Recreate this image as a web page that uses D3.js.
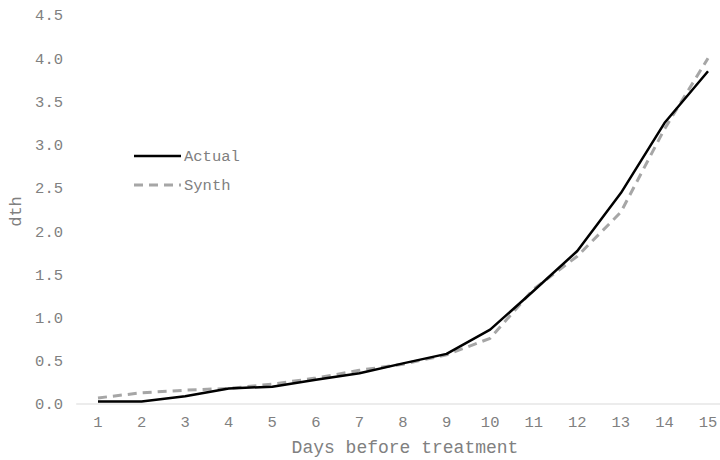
<!DOCTYPE html>
<html>
<head>
<meta charset="utf-8">
<script src="https://cdn.jsdelivr.net/npm/d3@7"></script>
<style>
  html, body { margin: 0; padding: 0; background: #fff; }
  svg { display: block; }
  text { font-family: "Liberation Mono", "Courier New", monospace; fill: #808080; }
</style>
</head>
<body>
<svg id="chart" width="720" height="460"></svg>
<script>
// Days before treatment
const days = [1, 2, 3, 4, 5, 6, 7, 8, 9, 10, 11, 12, 13, 14, 15];
// Observed series
const actual = [0.03, 0.03, 0.09, 0.18, 0.20, 0.28, 0.355, 0.47, 0.58, 0.86, 1.31, 1.77, 2.44, 3.25, 3.85];
// Synthetic control series
const synth = [0.07, 0.13, 0.16, 0.18, 0.23, 0.30, 0.39, 0.46, 0.57, 0.76, 1.33, 1.71, 2.22, 3.18, 4.00];
const yTicks = [0, 0.5, 1.0, 1.5, 2.0, 2.5, 3.0, 3.5, 4.0, 4.5];
const seriesNames = ["Actual", "Synth"];

const svg = d3.select("#chart");
const plotLeft = 76.2, plotRight = 729.8, plotTop = 15, plotBottom = 404;

const x = d3.scaleBand().domain(days).range([plotLeft, plotRight]);
const y = d3.scaleLinear().domain([0, 4.5]).range([plotBottom, plotTop]);

// Y tick labels
svg.append("g").selectAll("text").data(yTicks).join("text")
  .attr("x", 63).attr("y", d => y(d)).attr("dy", "0.35em")
  .attr("text-anchor", "end").attr("font-size", 15.5)
  .text(d => d3.format(".1f")(d));

// X axis baseline
svg.append("line")
  .attr("x1", plotLeft).attr("x2", plotRight).attr("y1", y(0)).attr("y2", y(0))
  .attr("stroke", "#d9d9d9").attr("stroke-width", 1);

// X tick labels
svg.append("g").selectAll("text").data(days).join("text")
  .attr("x", d => x(d) + x.bandwidth() / 2).attr("y", 427)
  .attr("text-anchor", "middle").attr("font-size", 15.5)
  .text(d => d);

// Axis titles
svg.append("text").attr("x", 405).attr("y", 453).attr("text-anchor", "middle")
  .attr("font-size", 18).text("Days before treatment");
svg.append("text").attr("transform", `translate(21, ${(plotTop + plotBottom) / 2 + 2}) rotate(-90)`)
  .attr("text-anchor", "middle").attr("font-size", 17).text("dth");

const line = d3.line()
  .x((d, i) => x(days[i]) + x.bandwidth() / 2)
  .y(d => y(d));

const styles = [
  { color: "#000000", width: 2.5, dash: null },
  { color: "#a6a6a6", width: 3, dash: "9,6" }
];

[synth, actual].forEach((s, k) => {
  const st = styles[1 - k];
  svg.append("path").datum(s)
    .attr("fill", "none").attr("stroke", st.color).attr("stroke-width", st.width)
    .attr("stroke-dasharray", st.dash).attr("stroke-linejoin", "round")
    .attr("d", line);
});

// Legend
const lg = svg.append("g");
seriesNames.forEach((name, i) => {
  const yy = 156 + i * 29;
  lg.append("line").attr("x1", 134).attr("x2", 181).attr("y1", yy).attr("y2", yy)
    .attr("stroke", styles[i].color).attr("stroke-width", styles[i].width)
    .attr("stroke-dasharray", styles[i].dash);
  lg.append("text").attr("x", 184).attr("y", yy).attr("dy", "0.35em")
    .attr("font-size", 15.5).text(name);
});
</script>
</body>
</html>
